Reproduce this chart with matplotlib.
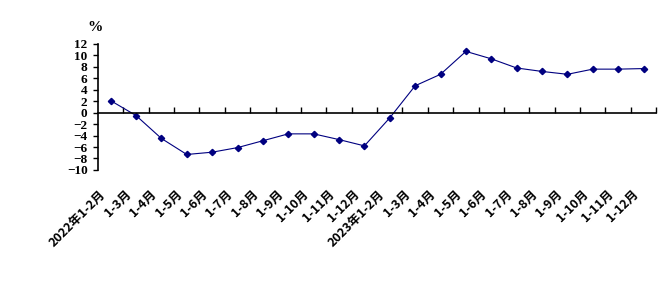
import matplotlib
matplotlib.use("Agg")
import matplotlib.pyplot as plt
import matplotlib.transforms as mtransforms
import numpy as np

plt.rcParams['font.family'] = ['Noto Sans CJK SC', 'DejaVu Sans']

categories = ["2022年1-2月", "1-3月", "1-4月", "1-5月", "1-6月", "1-7月", "1-8月",
              "1-9月", "1-10月", "1-11月", "1-12月",
              "2023年1-2月", "1-3月", "1-4月", "1-5月", "1-6月", "1-7月", "1-8月",
              "1-9月", "1-10月", "1-11月", "1-12月"]
values = [2.1, -0.5, -4.5, -7.3, -6.9, -6.1, -4.9, -3.7, -3.7, -4.7, -5.8,
          -0.9, 4.7, 6.7, 10.7, 9.4, 7.8, 7.2, 6.7, 7.6, 7.6, 7.7]
yticks = list(range(-10, 13, 2))

fig = plt.figure(figsize=(6.71, 2.91), dpi=100)
ax = fig.add_axes([0.146, 0.416, 0.832, 0.433])
x = np.arange(len(categories))
ax.plot(x, values, color='#000080', lw=0.8, marker='D', ms=3.2,
        markerfacecolor='#000080', markeredgecolor='#000080')

ax.set_xlim(-0.5, len(categories) - 0.5)
ax.set_ylim(-10, 12)
ax.set_yticks(yticks)
ax.set_yticklabels([str(v).replace('-', '−') for v in yticks],
                   fontsize=9.5, fontweight='bold', family='Liberation Serif')
ax.tick_params(axis='y', direction='out', length=3.5, width=1, pad=4)

for s in ['top', 'right']:
    ax.spines[s].set_visible(False)
ax.spines['bottom'].set_position(('data', 0))
ax.spines['bottom'].set_linewidth(1.2)
ax.spines['left'].set_linewidth(1.2)
ax.set_xticks(x + 0.5)
ax.set_xticklabels([])
ax.tick_params(axis='x', direction='in', length=4, width=1)

trans = mtransforms.blended_transform_factory(ax.transData, ax.transAxes)
for i, lab in enumerate(categories):
    ax.text(i - 0.45, -0.14, lab, transform=trans, rotation=45, ha='right', va='top',
            rotation_mode='anchor', fontsize=9, fontweight='bold')

ax.text(-0.005, 1.13, '%', transform=ax.transAxes, ha='center', va='center',
        fontsize=11, fontweight='bold', family='Liberation Serif')

fig.savefig('out.png', dpi=100)
